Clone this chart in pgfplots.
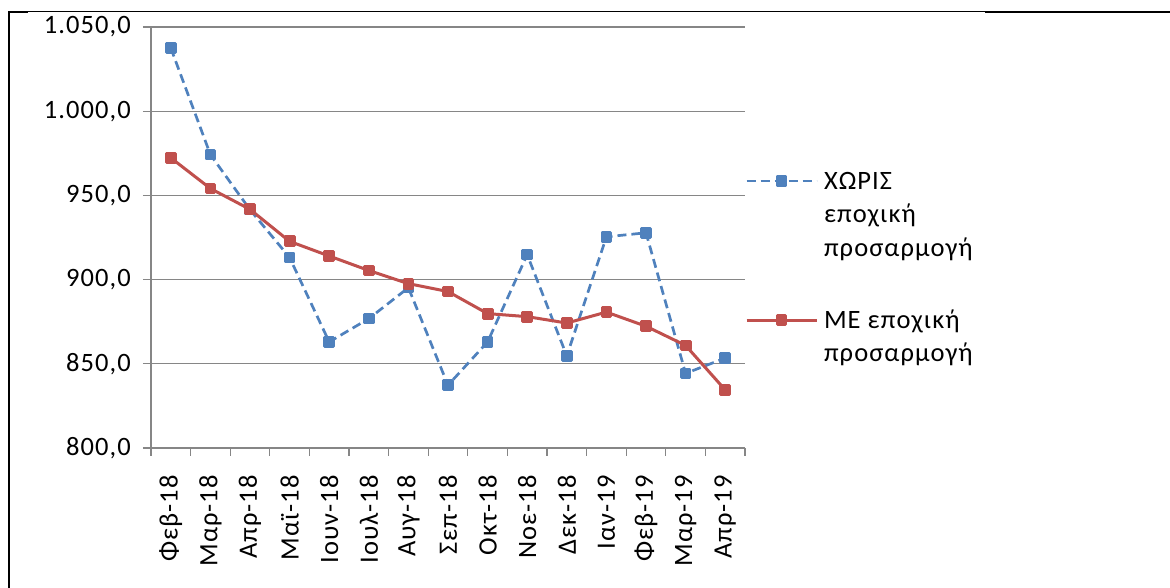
\documentclass[border=0pt]{standalone}
\usepackage{pgfplots}
\pgfplotsset{compat=1.18}
\usepackage{fontspec}
\setmainfont{Carlito}[LetterSpace=4]
\definecolor{xlblue}{RGB}{79,129,189}
\definecolor{xlred}{RGB}{192,80,77}
\definecolor{xlgrid}{RGB}{134,134,134}

\begin{document}
\begin{tikzpicture}[font=\fontsize{26.5pt}{33.5pt}\selectfont]
\useasboundingbox (0,0) rectangle (1170pt,588pt);
% frame of the sheet
\draw[line width=2.3pt] (9pt,0pt) -- (9pt,577pt);
\draw[line width=1.1pt] (8pt,576.5pt) -- (1170pt,576.5pt);
\draw[line width=2.3pt] (8pt,576pt) -- (28pt,576pt);
\draw[line width=2.2pt] (985pt,576pt) -- (1170pt,576pt);
\begin{axis}[
    at={(151pt,140pt)}, anchor=south west,
    width=594pt, height=421pt, scale only axis,
    xmin=-0.5, xmax=14.5, ymin=800, ymax=1050,
    axis lines=left,
    axis line style={-, xlgrid, line width=1.3pt},
    ytick={800,850,...,1050},
    ymajorgrids,
    grid style={xlgrid, line width=1.3pt},
    xtick={0,...,14},
    xticklabels={Φεβ-18,Μαρ-18,Απρ-18,Μαϊ-18,Ιουν-18,Ιουλ-18,Αυγ-18,Σεπ-18,Οκτ-18,Νοε-18,Δεκ-18,Ιαν-19,Φεβ-19,Μαρ-19,Απρ-19},
    minor xtick={-0.5,0.5,...,14.5},
    major x tick style={draw=none},
    tick align=outside,
    major tick length=8pt, minor tick length=8pt,
    tick style={xlgrid, line width=1.3pt},
    x tick label style={rotate=90, anchor=east, inner sep=0pt},
    xticklabel shift=19pt,
    y tick label style={anchor=east, inner sep=0pt,
        /pgf/number format/fixed, /pgf/number format/fixed zerofill,
        /pgf/number format/precision=1,
        /pgf/number format/1000 sep={.}, /pgf/number format/dec sep={,}},
    yticklabel shift=12pt,
    /pgf/number format/assume math mode=true,
    legend style={at={(axis description cs:1.0,0.6698)}, anchor=north west,
        draw=none, fill=none, inner sep=0pt, outer sep=0pt,
        row sep=114pt, column sep=6pt,
        nodes={inner sep=0pt, outer sep=0pt}, cells={anchor=base west}},
    legend image code/.code={\draw[mark repeat=2,mark phase=2,#1,yshift=8.4pt]
        plot coordinates {(0pt,0pt) (35pt,0pt) (70pt,0pt)};},
]
\addplot[xlblue, line width=2.7pt, dash pattern=on 9pt off 5pt, line join=round,
    mark=square*, mark size=4.4pt, mark options={solid}] coordinates {
    (0,1037.5) (1,974.2) (2,941.5) (3,913.1) (4,863.0) (5,876.8) (6,895.2)
    (7,837.3) (8,863.0) (9,914.8) (10,854.7) (11,925.4) (12,927.8) (13,844.3) (14,853.4)};
\addlegendentry{\begin{tabular}[t]{@{}l@{}}ΧΩΡΙΣ\\εποχική\\προσαρμογή\end{tabular}}
\addplot[xlred, line width=3pt, line join=round,
    mark=square*, mark size=4.4pt] coordinates {
    (0,972.3) (1,954.1) (2,941.7) (3,922.7) (4,914.0) (5,905.4) (6,897.6)
    (7,892.9) (8,879.8) (9,878.0) (10,874.2) (11,880.7) (12,872.3) (13,860.9) (14,834.5)};
\addlegendentry{\begin{tabular}[t]{@{}l@{}}ΜΕ εποχική\\προσαρμογή\end{tabular}}
\end{axis}
\end{tikzpicture}
\end{document}
